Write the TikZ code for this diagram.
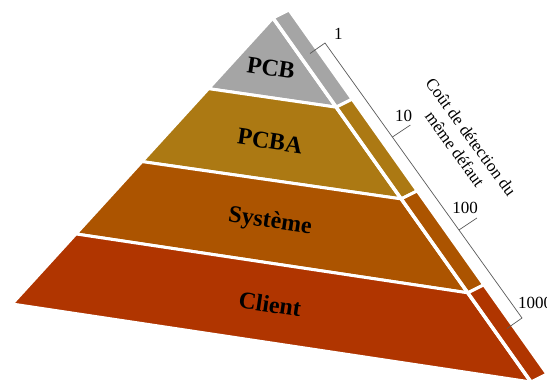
\documentclass[tikz,border=0pt]{standalone}
\usepackage{fontspec}
\setmainfont{Liberation Serif}
\usetikzlibrary{calc}

\definecolor{pcbgray}{RGB}{165,165,165}
\definecolor{pcbagold}{RGB}{172,121,19}
\definecolor{sysbrown}{RGB}{172,84,0}
\definecolor{clientred}{RGB}{176,53,0}

\begin{document}
\begin{tikzpicture}[x=1pt, y=1pt, yscale=-1,
    layer/.style={fill=#1, draw=white, line width=3pt, line join=round},
    lvl/.style={font=\fontsize{24}{28}\selectfont\bfseries, rotate=-8.5},
    cost/.style={font=\fontsize{17}{20}\selectfont, inner sep=1pt},
    bracket/.style={draw=black!65, line width=0.7pt}]
    \path [use as bounding box, clip] (0,0) rectangle (547,380);

    % front face
    \coordinate (A) at (273,18);
    \coordinate (L) at (12,304);
    \coordinate (B) at (531,382);
    \coordinate (l1) at ($(A)!0.247!(L)$);
    \coordinate (l2) at ($(A)!0.502!(L)$);
    \coordinate (l3) at ($(A)!0.755!(L)$);
    \coordinate (r1) at ($(A)!0.245!(B)$);
    \coordinate (r2) at ($(A)!0.497!(B)$);
    \coordinate (r3) at ($(A)!0.755!(B)$);
    \coordinate (d) at (16,-8);

    \draw [layer=pcbgray] (A) -- (l1) -- (r1) -- cycle ;
    \draw [layer=pcbagold] (l1) -- (l2) -- (r2) -- (r1) -- cycle ;
    \draw [layer=sysbrown] (l2) -- (l3) -- (r3) -- (r2) -- cycle ;
    \draw [layer=clientred] (l3) -- (L) -- (B) -- (r3) -- cycle ;

    % side face
    \draw [layer=pcbgray] (A) -- (r1) -- ($(r1)+(d)$) -- ($(A)+(d)$) -- cycle ;
    \draw [layer=pcbagold] (r1) -- (r2) -- ($(r2)+(d)$) -- ($(r1)+(d)$) -- cycle ;
    \draw [layer=sysbrown] (r2) -- (r3) -- ($(r3)+(d)$) -- ($(r2)+(d)$) -- cycle ;
    \draw [layer=clientred] (r3) -- (B) -- ($(B)+(d)$) -- ($(r3)+(d)$) -- cycle ;
    \draw [white, line width=3.5pt] (A) -- (B) ;

    \node [lvl] (pcb) at (271,68) {PCB} ;
    \node [lvl] (pcba) at (270,141) {PCBA} ;
    \node [lvl] (sys) at (270,222) {Système} ;
    \node [lvl] (client) at (270,304) {Client} ;

    % cost bracket
    \coordinate (c1) at (325,43);
    \coordinate (c4) at (522,318);
    \coordinate (c2) at ($(c1)!0.342!(c4)$);
    \coordinate (c3) at ($(c1)!0.68!(c4)$);
    \draw [bracket] ($(c1)+(-15,10.5)$) -- (c1) -- (c4) -- ($(c4)+(-15,10.5)$) ;
    \draw [bracket] (c2) -- ++(18,-12) coordinate (t2) ;
    \draw [bracket] (c3) -- ++(18,-12) coordinate (t3) ;

    \node [cost, anchor=south west] (n1) at ($(c1)+(8,-2)$) {1} ;
    \node [cost, anchor=south east] (n10) at ($(t2)+(3,-2)$) {10} ;
    \node [cost, anchor=south east] (n100) at ($(t3)+(2,-3)$) {100} ;
    \node [cost, anchor=south west] (n1000) at ($(c4)+(-5,-8)$) {1000} ;

    \node [cost, rotate=-54, align=center] (axis) at (463,143)
        {Coût de détection du\\même défaut} ;
\end{tikzpicture}
\end{document}
